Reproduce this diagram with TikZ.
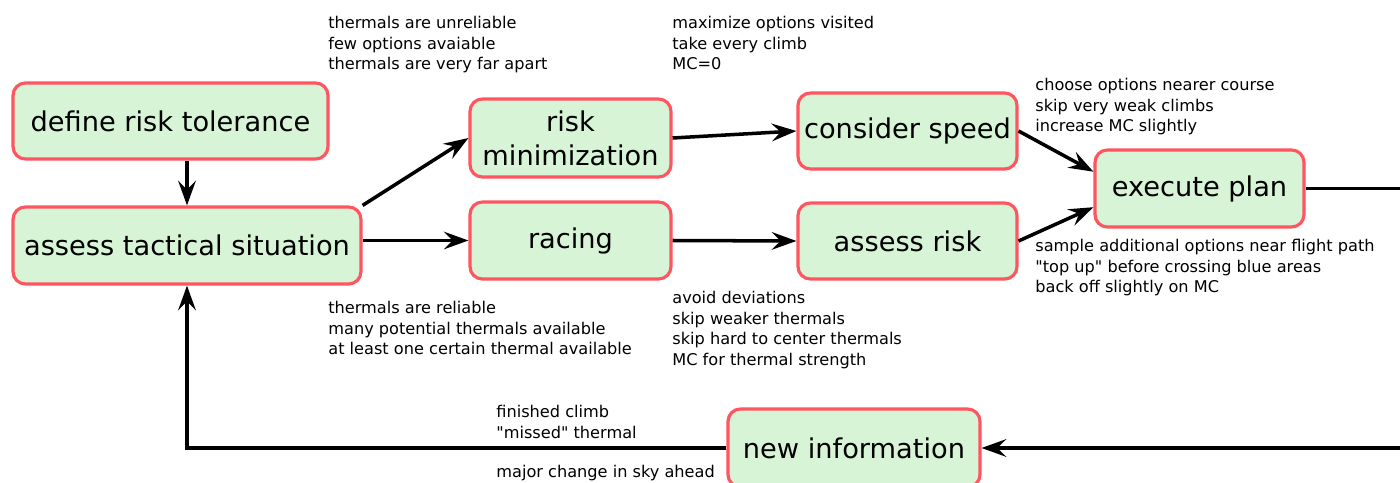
\documentclass[tikz,border=0pt]{standalone}
\usepackage{fontspec}
\setmainfont{DejaVu Sans}
\usetikzlibrary{arrows.meta}
\definecolor{stageline}{HTML}{FF5560}
\definecolor{stagefill}{HTML}{D7F4D7}
\begin{document}
\begin{tikzpicture}[x=0.02cm, y=-0.02cm,
    stage/.style={shape=rectangle, rounded corners=7pt, draw=stageline, fill=stagefill, line width=1.8pt, align=center, inner sep=0pt, font=\fontsize{15.5}{19.3}\selectfont},
    note/.style={anchor=north west, align=left, inner sep=0pt, font=\fontsize{9.2}{11.7}\selectfont},
    flow/.style={line width=2pt, -{Stealth[length=14pt, width=10pt, inset=5pt]}}]
        \useasboundingbox (0,0) rectangle (1400,483);

        \node[stage, minimum width=6.30cm, minimum height=1.52cm] (DRT) at (170.5,121)   {define risk tolerance};
        \node[stage, minimum width=6.96cm, minimum height=1.54cm] (ATS) at (187,245.5)   {assess tactical situation};
        \node[stage, minimum width=4.02cm, minimum height=1.56cm] (RM)  at (570.5,138)   {risk\\minimization};
        \node[stage, minimum width=4.02cm, minimum height=1.54cm] (RAC) at (570.5,240.5) {racing};
        \node[stage, minimum width=4.38cm, minimum height=1.52cm] (CS)  at (907.5,131)   {consider speed};
        \node[stage, minimum width=4.38cm, minimum height=1.52cm] (AR)  at (907.5,241)   {assess risk};
        \node[stage, minimum width=4.18cm, minimum height=1.54cm] (EP)  at (1199.5,188.5) {execute plan};
        \node[stage, minimum width=5.04cm, minimum height=1.56cm] (NI)  at (854,448)     {new information};
        \coordinate (LOOP) at (1440,188.5);

        % notes
        \node[note] (UNREL) at (328,16)  {thermals are unreliable\\few options avaiable\\thermals are very far apart};
        \node[note] (MAXOP) at (672,16)  {maximize options visited\\take every climb\\MC=0};
        \node[note] (NEAR)  at (1035,78) {choose options nearer course\\skip very weak climbs\\increase MC slightly};
        \node[note] (SAMP)  at (1035,239) {sample additional options near flight path\\\textquotedbl top up\textquotedbl{} before crossing blue areas\\back off slightly on MC};
        \node[note] (REL)   at (328,301) {thermals are reliable\\many potential thermals available\\at least one certain thermal available};
        \node[note] (AVOID) at (672,291) {avoid deviations\\skip weaker thermals\\skip hard to center thermals\\MC for thermal strength};
        \node[note] (FIN)   at (496,405) {finished climb\\\textquotedbl missed\textquotedbl{} thermal};
        \node[note] (MAJOR) at (496,465) {major change in sky ahead};

        \path [flow] (DRT.south -| ATS.north) edge (ATS.north);
        \path [flow] (ATS.north east) edge (RM.west);
        \path [flow] (ATS.east |- RAC.west) edge (RAC.west);
        \path [flow] (RM.east) edge (CS.west);
        \path [flow] (RAC.east) edge (AR.west);
        \path [flow] (CS.east) edge (EP.171);
        \path [flow] (AR.east) edge (EP.190);
        \draw [flow] (EP.east) -- (LOOP) |- (NI.east);
        \draw [flow] (NI.west) -| (ATS.south);
\end{tikzpicture}
\end{document}
